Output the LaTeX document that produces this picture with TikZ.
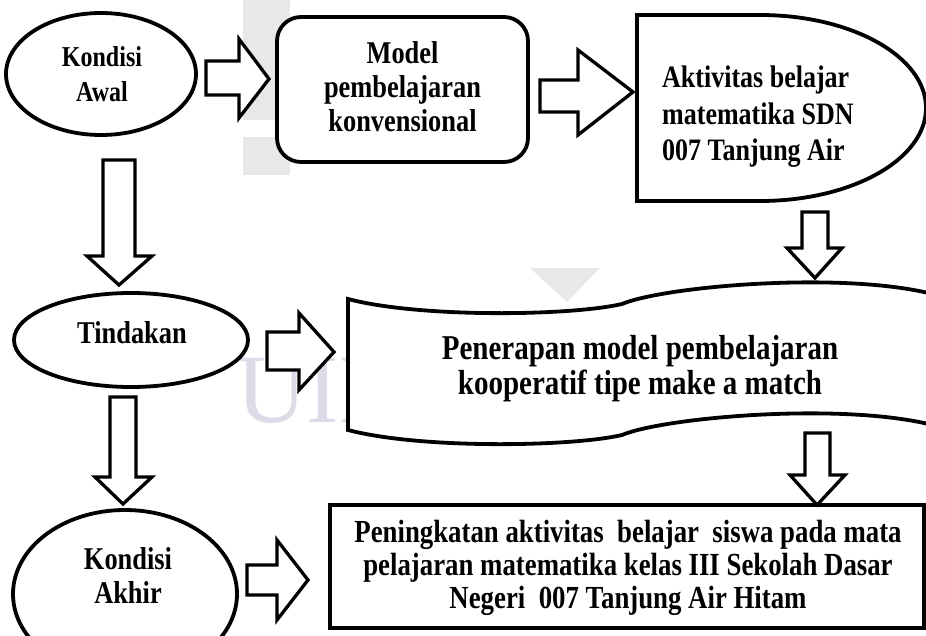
\documentclass[tikz,border=0pt]{standalone}
\usepackage{graphicx}
\usepackage{fontspec}
\setmainfont{Liberation Serif}
\usetikzlibrary{shapes.geometric}
\definecolor{wmgray}{RGB}{232,233,230}
\definecolor{wmlav}{RGB}{220,220,232}
\newcommand\vstr[1]{\scalebox{1}[1.2]{#1}}
\begin{document}
\begin{tikzpicture}[x=1pt,y=-1pt,
  shapeline/.style={line width=3.8pt, draw=black, fill=white},
  blockarr/.style={line width=3.3pt, draw=black, fill=white, line join=miter},
  lbl/.style={inner sep=0pt, align=center},
  fsA/.style={font=\fontsize{24}{35}\selectfont\bfseries},
  fsB/.style={font=\fontsize{26.4}{34}\selectfont\bfseries},
  fsC/.style={font=\fontsize{26}{36.5}\selectfont\bfseries},
  fsD/.style={font=\fontsize{29}{35}\selectfont\bfseries},
  fsE/.style={font=\fontsize{26.8}{33}\selectfont\bfseries}]
\useasboundingbox (0,0) rectangle (926,636);
\clip (0,0) rectangle (926,636);
% faint watermark
\fill[wmgray] (243,0) rectangle (290,175);
\fill[white] (233,120) rectangle (290,137);
\fill[wmgray] (530,268) -- (600,268) -- (567,302) -- cycle;
\node[inner sep=0pt, anchor=base west, text=wmlav, font=\fontsize{98}{98}\selectfont] (wm) at (236,422) {UIN};

% shapes
\node[ellipse, shapeline, minimum width=190, minimum height=122, inner sep=0pt] (awal) at (101,74) {};
\node[shapeline, rounded corners=24pt, minimum width=251, minimum height=145, inner sep=0pt] (model) at (402.5,89.5) {};
\draw[shapeline] (637,15) -- (760,15) .. controls (851.7,15) and (926,56.6) .. (926,108)
   .. controls (926,159.4) and (851.7,201) .. (760,201) -- (637,201) -- cycle;
\coordinate (aktiv) at (760,108);
\node[ellipse, shapeline, minimum width=234, minimum height=94, inner sep=0pt] (tind) at (131,340) {};
\draw[shapeline] (348,299) .. controls (420,318) and (570,316) .. (622,304)
   .. controls (665,286) and (850,270) .. (940,296) -- (940,427)
   .. controls (850,401) and (665,417) .. (622,435)
   .. controls (570,447) and (420,449) .. (348,430) -- cycle;
\coordinate (scroll) at (640,365);
\node[ellipse, shapeline, minimum width=224, minimum height=168, inner sep=0pt] (akhir) at (125,594) {};
\node[shapeline, minimum width=594, minimum height=123, inner sep=0pt] (hasil) at (627,566.5) {};

% block arrows
\draw[blockarr] (206,61) -- (239,61) -- (239,39) -- (269,79) -- (239,118) -- (239,95) -- (206,95) -- cycle;
\draw[blockarr] (540,80) -- (578,80) -- (578,50) -- (633,92) -- (578,135) -- (578,112) -- (540,112) -- cycle;
\draw[blockarr] (802,212) -- (828,212) -- (828,248) -- (842,248) -- (815,278) -- (787,248) -- (802,248) -- cycle;
\draw[blockarr] (805,433) -- (830,433) -- (830,475) -- (845,475) -- (817,505) -- (790,475) -- (805,475) -- cycle;
\draw[blockarr] (103,160) -- (135,160) -- (135,256) -- (152,256) -- (119,285) -- (87,256) -- (103,256) -- cycle;
\draw[blockarr] (110,397) -- (136,397) -- (136,477) -- (152,477) -- (123,504) -- (95,477) -- (110,477) -- cycle;
\draw[blockarr] (267,332) -- (299,332) -- (299,313) -- (334,352) -- (299,390) -- (299,370) -- (267,370) -- cycle;
\draw[blockarr] (247,565) -- (277,565) -- (277,540) -- (308,580) -- (277,620) -- (277,595) -- (247,595) -- cycle;

% texts
\node[lbl, fsA, anchor=north] (tawal) at (102,46.7) {\vstr{Kondisi}\\\vstr{Awal}};
\node[lbl, fsB, anchor=north] (tmodel) at (402.5,41.8) {\vstr{Model}\\\vstr{pembelajaran}\\\vstr{konvensional}};
\node[lbl, fsC, anchor=north west, align=left] (taktiv) at (662,66.1) {\vstr{Aktivitas belajar}\\\vstr{matematika SDN}\\\vstr{007 Tanjung Air}};
\node[lbl, fsB, anchor=base] (ttind) at (132,343) {\vstr{Tindakan}};
\node[lbl, fsD, anchor=north] (tscroll) at (640,334.7) {\vstr{Penerapan model pembelajaran}\\\vstr{kooperatif tipe make a match}};
\node[lbl, fsB, anchor=north] (takhir) at (128,547.8) {\vstr{Kondisi}\\\vstr{Akhir}};
\node[lbl, fsE, anchor=north] (thasil) at (628,519.5) {\vstr{Peningkatan aktivitas\ \ belajar\ \ siswa pada mata}\\\vstr{pelajaran matematika kelas III Sekolah Dasar}\\\vstr{Negeri\ \ 007 Tanjung Air Hitam}};
\end{tikzpicture}
\end{document}
